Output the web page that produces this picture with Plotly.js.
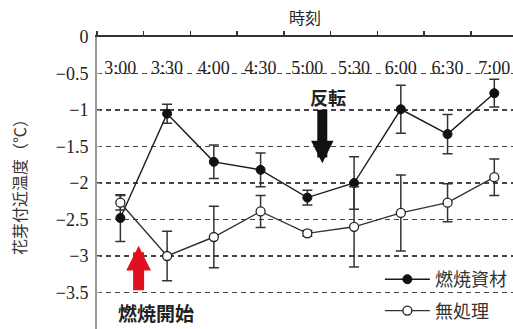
<!DOCTYPE html>
<html>
<head>
<meta charset="utf-8">
<script src="https://cdn.plot.ly/plotly-3.0.1.min.js"></script>
<style>html,body{margin:0;padding:0;background:#fff;}#chart{width:513px;height:329px;}</style>
</head>
<body>
<div id="chart"></div>
<script>
var times = ["3:00","3:30","4:00","4:30","5:00","5:30","6:00","6:30","7:00"];
var burnName = "燃焼資材";
var burnVals = [-2.48, -1.05, -1.71, -1.82, -2.20, -2.00, -0.99, -1.33, -0.77];
var burnErr  = [0.32, 0.13, 0.23, 0.23, 0.10, 0.36, 0.33, 0.27, 0.19];
var ctrlName = "無処理";
var ctrlVals = [-2.27, -3.00, -2.74, -2.39, -2.69, -2.60, -2.41, -2.27, -1.92];
var ctrlErr  = [0.10, 0.34, 0.42, 0.22, 0.04, 0.55, 0.52, 0.26, 0.25];
var yTicks = [0, -0.5, -1, -1.5, -2, -2.5, -3, -3.5, -4];

var cjk = 'Noto Sans CJK JP';
var serif = 'Liberation Serif';

var traces = [
  {x: times, y: burnVals, name: burnName, legendgroup: 'burn', type: 'scatter', mode: 'lines+markers',
   line: {color: '#1a1a1a', width: 1.4},
   marker: {symbol: 'circle', size: 9, color: '#111', line: {color: '#111', width: 1}},
   error_y: {type: 'data', array: burnErr, visible: true, color: '#333', thickness: 1.5, width: 5}},
  {x: times, y: ctrlVals, name: ctrlName, legendgroup: 'ctrl', type: 'scatter', mode: 'lines+markers',
   line: {color: '#333', width: 1.4},
   marker: {symbol: 'circle', size: 9, color: '#fff', line: {color: '#222', width: 1.3}},
   error_y: {type: 'data', array: ctrlErr, visible: true, color: '#333', thickness: 1.5, width: 5}}
];

var layout = {
  width: 513, height: 329,
  margin: {l: 97, r: 0, t: 37, b: 0},
  paper_bgcolor: '#fff', plot_bgcolor: '#fff',
  showlegend: true,
  legend: {x: 0.68, y: 0, xanchor: 'left', yanchor: 'bottom', bgcolor: 'rgba(255,255,255,0)',
           itemwidth: 45,
           font: {family: cjk, size: 18, color: '#333'}, tracegroupgap: 5},
  xaxis: {
    type: 'category', side: 'top', range: [-0.5, 8.4],
    showline: true, linecolor: '#333', linewidth: 2, mirror: false,
    ticks: 'outside', ticklen: 4, tickcolor: '#333', tickwidth: 1.5, tickson: 'boundaries',
    ticklabelposition: 'outside', ticklabelstandoff: -46,
    tickfont: {family: serif, size: 18, color: '#222'},
    showgrid: false, zeroline: false,
    title: {text: '時刻', font: {family: cjk, size: 16, color: '#222'}, standoff: 29}
  },
  yaxis: {
    range: [-4, 0], tickvals: yTicks, ticktext: yTicks.map(function(v){return v===0?'0':String(v).replace('-', '−');}),
    showline: true, linecolor: '#999', linewidth: 2,
    ticks: 'inside', ticklen: 3, tickcolor: '#999',
    ticklabelstandoff: 3,
    tickfont: {family: serif, size: 18, color: '#222'},
    showgrid: true, gridcolor: '#444', gridwidth: 1.3, griddash: '5px,4px',
    zeroline: false,
    title: {text: '花芽付近温度（℃）', font: {family: cjk, size: 16, color: '#333'}, standoff: 25}
  },
  shapes: [
    {type: 'rect', xref: 'paper', yref: 'y', x0: 0.644, x1: 1, y0: -4, y1: -3.25,
     fillcolor: '#fff', line: {width: 0}, layer: 'below'}
  ],
  annotations: [
    {x: 4.45, y: -0.82, xref: 'x', yref: 'y', text: '<b>反転</b>', showarrow: false,
     font: {family: cjk, size: 18, color: '#222'}},
    {x: 4.32, y: -1.73, xref: 'x', yref: 'y', ax: 0, ay: -55, text: '', showarrow: true,
     arrowhead: 2, arrowwidth: 10, arrowsize: 0.45, arrowcolor: '#111'},
    {x: 0.39, y: -2.86, xref: 'x', yref: 'y', ax: 0, ay: 46, text: '', showarrow: true,
     arrowhead: 2, arrowwidth: 11, arrowsize: 0.45, arrowcolor: '#e01020'},
    {x: 0.77, y: -3.78, xref: 'x', yref: 'y', text: '<b>燃焼開始</b>', showarrow: false,
     font: {family: cjk, size: 19, color: '#222'}}
  ]
};

Plotly.newPlot('chart', traces, layout, {displayModeBar: false, staticPlot: true});
</script>
</body>
</html>
